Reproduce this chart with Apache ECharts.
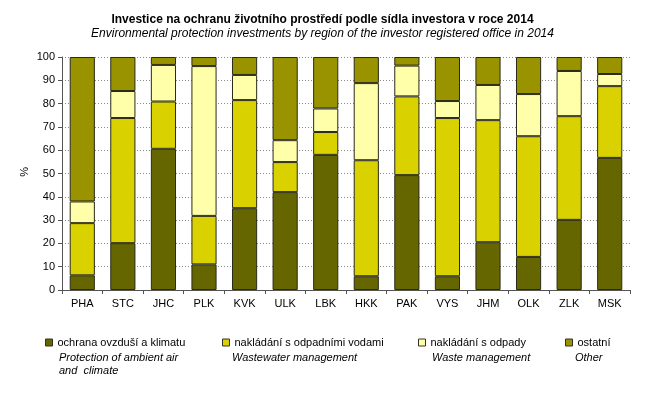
<!DOCTYPE html>
<html><head><meta charset="utf-8">
<script src="https://cdn.jsdelivr.net/npm/echarts@6/dist/echarts.min.js"></script>
<style>html,body{margin:0;padding:0;background:#fff}#c{width:645px;height:395px}</style>
</head><body><div id="c"></div>
<script>
var categories = ['PHA','STC','JHC','PLK','KVK','ULK','LBK','HKK','PAK','VYS','JHM','OLK','ZLK','MSK'];
var airClimate = [6.3,20.1,60.6,11.0,35.1,42.0,58.0,5.9,49.3,5.9,20.5,14.2,30.1,56.7];
var wastewater = [22.4,53.7,20.3,20.8,46.4,12.9,9.8,49.8,33.8,67.9,52.4,51.8,44.5,30.8];
var waste = [9.3,11.6,15.7,64.3,10.8,9.4,10.1,33.1,13.2,7.3,15.1,18.1,19.4,5.2];
var other = [62.0,14.6,3.4,3.9,7.7,35.7,22.1,11.2,3.7,18.9,12.0,15.9,6.0,7.3];
var seriesNames = ['ochrana ovzduší a klimatu','nakládání s odpadními vodami','nakládání s odpady','ostatní'];
var seriesNamesEn = ['Protection of ambient air\nand  climate','Wastewater management','Waste management','Other'];
var yTicks = [0,10,20,30,40,50,60,70,80,90,100];

var colors = ['#666600','#d9d200','#ffffaa','#999300'];
var FONT = 'Liberation Sans, Arial, sans-serif';
var dataSets = [airClimate, wastewater, waste, other];
var legendLeft = [45, 222, 418, 565];
var enLeft = [59, 232, 432, 575];

var chart = echarts.init(document.getElementById('c'), null, {renderer:'canvas'});
var series = dataSets.map(function(d, i){
  return {
    name: seriesNames[i], type: 'bar', stack: 'total', data: d,
    barWidth: '62%',
    itemStyle: {color: colors[i], borderColor: '#2a2a1a', borderWidth: 1},
    emphasis: {disabled: true}
  };
});
var legends = seriesNames.map(function(n, i){
  return {
    data: [n], left: legendLeft[i], top: 337, orient: 'horizontal', padding: 0,
    itemWidth: 7, itemHeight: 7, itemGap: 0, selectedMode: false,
    icon: 'rect',
    itemStyle: {borderColor: '#333322', borderWidth: 1},
    textStyle: {fontFamily: FONT, fontSize: 11, color: '#000'}
  };
});
var graphics = seriesNamesEn.map(function(t, i){
  return {
    type: 'text', left: enLeft[i], top: 351,
    style: {text: t, font: 'italic 11px ' + FONT, fill: '#000', lineHeight: 13}
  };
});
graphics.push({
  type: 'text', left: 19, top: 167, rotation: Math.PI/2,
  style: {text: '%', font: '11px ' + FONT, fill: '#000'}
});

chart.setOption({
  animation: false,
  backgroundColor: '#fff',
  title: {
    text: 'Investice na ochranu životního prostředí podle sídla investora v roce 2014',
    subtext: 'Environmental protection investments by region of the investor registered office in 2014',
    left: 'center', top: 9, itemGap: 2,
    textStyle: {fontFamily: FONT, fontSize: 12, fontWeight: 'bold', color: '#000'},
    subtextStyle: {fontFamily: FONT, fontSize: 12, fontStyle: 'italic', color: '#000'}
  },
  legend: legends,
  graphic: graphics,
  grid: {left: 62, right: 15, top: 57, bottom: 105},
  xAxis: {
    type: 'category', data: categories,
    axisLine: {lineStyle: {color: '#555', width: 1}},
    axisTick: {show: true, length: 4, lineStyle: {color: '#555'}},
    axisLabel: {fontFamily: FONT, fontSize: 11, color: '#000', margin: 8}
  },
  yAxis: {
    type: 'value', min: yTicks[0], max: yTicks[yTicks.length-1], interval: 10,
    axisLine: {show: true, lineStyle: {color: '#555', width: 1}},
    axisTick: {show: true, length: 4, lineStyle: {color: '#555'}},
    axisLabel: {fontFamily: FONT, fontSize: 11, color: '#000', margin: 7},
    splitLine: {show: true, lineStyle: {color: '#888', type: [1,2], width: 1}}
  },
  series: series
});
</script></body></html>
